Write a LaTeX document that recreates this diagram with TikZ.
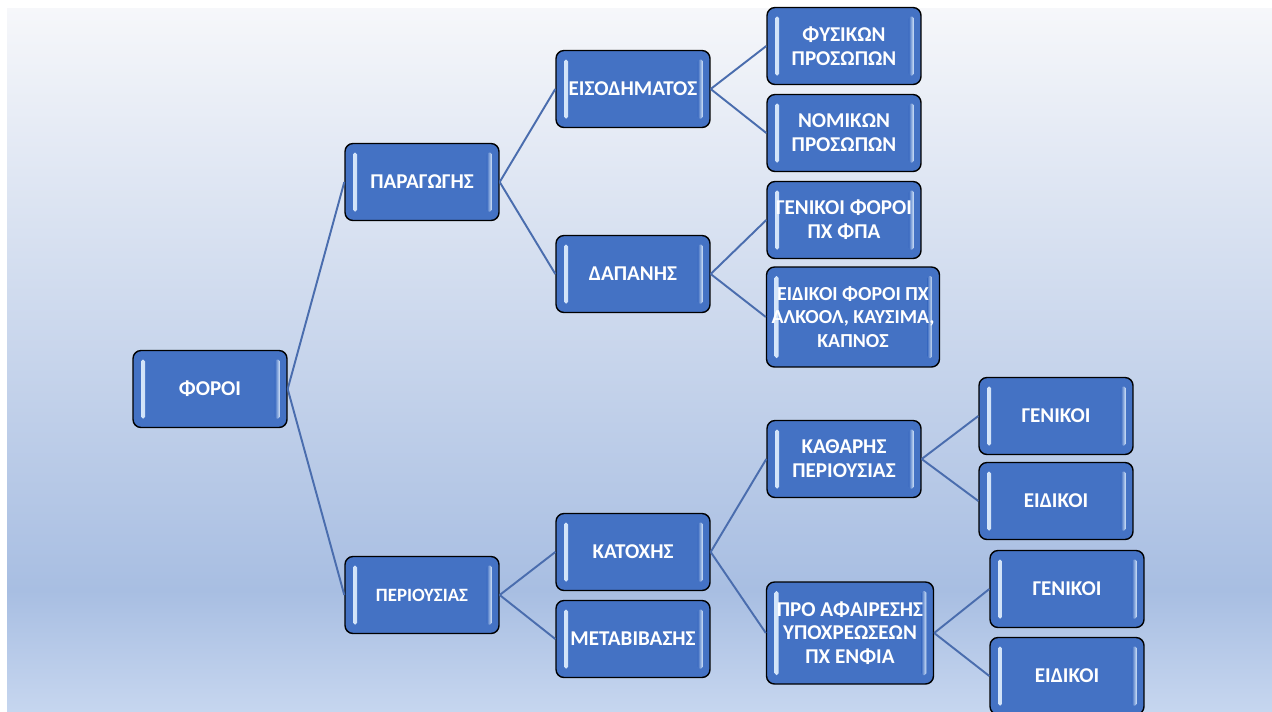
\documentclass[tikz,border=0pt]{standalone}
\usepackage{fontspec}
\setmainfont{Carlito}
\usepackage{tikz}
\usetikzlibrary{shadings}
\definecolor{boxblue}{HTML}{4472C4}
\definecolor{boxlite}{HTML}{DCEBFC}
\definecolor{linkblue}{HTML}{4A6DAE}
\definecolor{bgtop}{HTML}{F6F7FA}
\definecolor{bgdark}{HTML}{A8BEE2}
\definecolor{bgbot}{HTML}{C6D6EF}
\pgfdeclareverticalshading{bgshade}{100bp}{color(0bp)=(bgbot); color(25bp)=(bgbot); color(33.6bp)=(bgdark); color(75bp)=(bgtop); color(100bp)=(bgtop)}
\pgfmathsetmacro{\boxW}{3.08}
\pgfmathsetmacro{\boxH}{1.54}
\tikzset{
	taxbox/.style= {
		shape=rectangle, rounded corners=0.16cm,
		minimum width=\boxW cm, minimum height=\boxH cm,
		draw=black, line width=0.8pt, fill=boxblue,
		inner sep=1pt, align=center, text=white,
		font=\bfseries\fontsize{12}{13.5}\selectfont,
		% light bars down both sides
		path picture={
			\shade[left color=boxlite, right color=boxblue, rounded corners=1pt]
				([xshift=0.16cm,yshift=-0.18cm]path picture bounding box.north west)
				rectangle ([xshift=0.24cm,yshift=0.18cm]path picture bounding box.south west);
			\shade[left color=boxblue, right color=boxlite, rounded corners=1pt]
				([xshift=-0.24cm,yshift=-0.18cm]path picture bounding box.north east)
				rectangle ([xshift=-0.14cm,yshift=0.18cm]path picture bounding box.south east);
		}
	},
	link/.style={draw=linkblue, line width=1.1pt}
}

\begin{document}
\begin{tikzpicture}[x=0.02cm, y=-0.02cm]
\useasboundingbox (0,0) rectangle (1272,711);
\fill[white] (0,0) rectangle (1272,711);
\shade[shading=bgshade] (7,8) rectangle (1272,711);

% first and second level
\node[taxbox] (foroi) at (210,389) {ΦΟΡΟΙ};
\node[taxbox] (paragogis) at (422,182) {ΠΑΡΑΓΩΓΗΣ};
\node[taxbox, font=\bfseries\fontsize{10.7}{12}\selectfont] (periousias) at (422,595) {ΠΕΡΙΟΥΣΙΑΣ};

% third level
\node[taxbox] (eisodimatos) at (633,89) {ΕΙΣΟΔΗΜΑΤΟΣ};
\node[taxbox] (dapanis) at (633,274) {ΔΑΠΑΝΗΣ};
\node[taxbox] (katoxis) at (633,552) {ΚΑΤΟΧΗΣ};
\node[taxbox] (metavivasis) at (633,639) {ΜΕΤΑΒΙΒΑΣΗΣ};

% fourth level
\node[taxbox] (fysikon) at (844,46) {ΦΥΣΙΚΩΝ\\ΠΡΟΣΩΠΩΝ};
\node[taxbox] (nomikon) at (844,133) {ΝΟΜΙΚΩΝ\\ΠΡΟΣΩΠΩΝ};
\node[taxbox] (genikoiFpa) at (844,220) {ΓΕΝΙΚΟΙ ΦΟΡΟΙ\\ΠΧ ΦΠΑ};
\node[taxbox, minimum width=3.46cm, minimum height=2cm,
	font=\bfseries\fontsize{11.3}{13.2}\selectfont] (eidikoiFpa) at (853,317)
	{ΕΙΔΙΚΟΙ ΦΟΡΟΙ ΠΧ\\ΑΛΚΟΟΛ, ΚΑΥΣΙΜΑ,\\ΚΑΠΝΟΣ};
\node[taxbox] (katharis) at (844,459) {ΚΑΘΑΡΗΣ\\ΠΕΡΙΟΥΣΙΑΣ};
\node[taxbox, minimum width=3.34cm, minimum height=2.04cm] (proAfair) at (850,633)
	{ΠΡΟ ΑΦΑΙΡΕΣΗΣ\\ΥΠΟΧΡΕΩΣΕΩΝ\\ΠΧ ΕΝΦΙΑ};

% fifth level
\node[taxbox] (genikoiKath) at (1056,416) {ΓΕΝΙΚΟΙ};
\node[taxbox] (eidikoiKath) at (1056,501) {ΕΙΔΙΚΟΙ};
\node[taxbox] (genikoiPro) at (1067,589) {ΓΕΝΙΚΟΙ};
\node[taxbox] (eidikoiPro) at (1067,676) {ΕΙΔΙΚΟΙ};

% connectors
\foreach \a/\b in {foroi/paragogis, foroi/periousias,
	paragogis/eisodimatos, paragogis/dapanis,
	periousias/katoxis, periousias/metavivasis,
	eisodimatos/fysikon, eisodimatos/nomikon,
	dapanis/genikoiFpa, dapanis/eidikoiFpa,
	katoxis/katharis, katoxis/proAfair,
	katharis/genikoiKath, katharis/eidikoiKath,
	proAfair/genikoiPro, proAfair/eidikoiPro}{%
	\draw[link] (\a.east) -- (\b.west);
}
\end{tikzpicture}
\end{document}
